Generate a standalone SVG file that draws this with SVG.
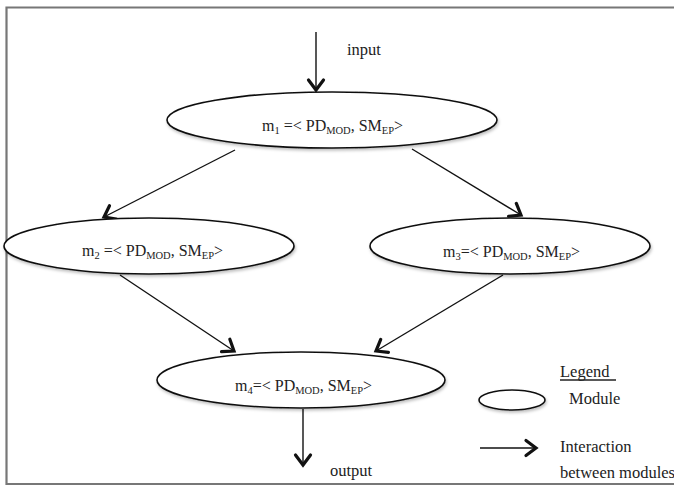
<svg xmlns="http://www.w3.org/2000/svg" width="674" height="487" viewBox="0 0 674 487">
<style>
.frame{fill:none;stroke:#777;stroke-width:2.2}
.node{fill:#fff;stroke:#111;stroke-width:1.6;filter:url(#sh)}
.conn{fill:none;stroke:#111;stroke-width:1.4;marker-end:url(#ah)}
.lbl{font-family:"Liberation Serif","Times New Roman",serif;font-size:16px;fill:#222}
.sm{font-family:"Liberation Serif","Times New Roman",serif;font-size:16.5px;fill:#222}
.sub{font-size:10.5px}
</style>
<defs>
<filter id="sh" x="-10%" y="-30%" width="120%" height="160%">
<feDropShadow dx="1" dy="2" stdDeviation="1.5" flood-color="#000" flood-opacity="0.25"/>
</filter>
<marker id="ah" markerUnits="userSpaceOnUse" markerWidth="22" markerHeight="22" refX="0" refY="0" viewBox="-13 -11 15 22" orient="auto">
<path d="M-10,-7.5 L0,0 L-10,7.5" fill="none" stroke="#111" stroke-width="3.2" stroke-linecap="round" stroke-linejoin="miter"/>
</marker>
</defs>
<rect width="674" height="487" fill="#fff"/>
<path class="frame" d="M674,7.5 H6.5 V484 H674"/>
<g id="connectors">
<line class="conn" x1="316" y1="32" x2="316" y2="90"/>
<line class="conn" x1="235" y1="150" x2="104" y2="217"/>
<line class="conn" x1="412" y1="149" x2="521" y2="215"/>
<line class="conn" x1="120" y1="275" x2="234" y2="351"/>
<line class="conn" x1="503" y1="275" x2="376" y2="351"/>
<line class="conn" x1="303" y1="409" x2="303" y2="465"/>
</g>
<g id="input-label"><text class="sm" x="347" y="55">input</text></g>
<g id="output-label"><text class="sm" x="330" y="476">output</text></g>
<g id="m1">
<ellipse class="node" cx="332" cy="120" rx="165" ry="28"/>
<text class="lbl" x="262" y="131">m<tspan class="sub" dy="3">1</tspan><tspan dy="-3"> =&lt; PD</tspan><tspan class="sub" dy="3">MOD</tspan><tspan dy="-3">, SM</tspan><tspan class="sub" dy="3">EP</tspan><tspan dy="-3">&gt;</tspan></text>
</g>
<g id="m2">
<ellipse class="node" cx="149" cy="246" rx="145" ry="28"/>
<text class="lbl" x="82" y="256">m<tspan class="sub" dy="3">2</tspan><tspan dy="-3"> =&lt; PD</tspan><tspan class="sub" dy="3">MOD</tspan><tspan dy="-3">, SM</tspan><tspan class="sub" dy="3">EP</tspan><tspan dy="-3">&gt;</tspan></text>
</g>
<g id="m3">
<ellipse class="node" cx="510" cy="246" rx="140" ry="28"/>
<text class="lbl" x="443" y="257">m<tspan class="sub" dy="3">3</tspan><tspan dy="-3">=&lt; PD</tspan><tspan class="sub" dy="3">MOD</tspan><tspan dy="-3">, SM</tspan><tspan class="sub" dy="3">EP</tspan><tspan dy="-3">&gt;</tspan></text>
</g>
<g id="m4">
<ellipse class="node" cx="301" cy="380" rx="144" ry="28"/>
<text class="lbl" x="235" y="391">m<tspan class="sub" dy="3">4</tspan><tspan dy="-3">=&lt; PD</tspan><tspan class="sub" dy="3">MOD</tspan><tspan dy="-3">, SM</tspan><tspan class="sub" dy="3">EP</tspan><tspan dy="-3">&gt;</tspan></text>
</g>
<g id="legend">
<text class="sm" x="560" y="377" font-size="17">Legend</text>
<line x1="560" y1="380" x2="616" y2="380" stroke="#222" stroke-width="1.4"/>
<ellipse class="node" cx="512" cy="400" rx="33" ry="10"/>
<text class="sm" x="569" y="404">Module</text>
<line class="conn" x1="480" y1="448" x2="536" y2="448"/>
<text class="sm" x="560" y="452">Interaction</text>
<text class="sm" x="560" y="478">between modules</text>
</g>
</svg>
